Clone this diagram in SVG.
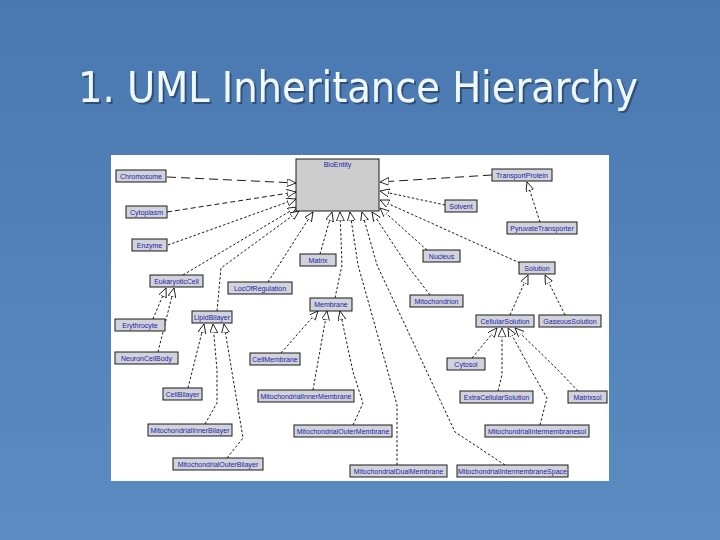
<svg xmlns="http://www.w3.org/2000/svg" width="720" height="540" viewBox="0 0 720 540">
<defs>
<linearGradient id="bg" x1="0" y1="0" x2="0" y2="1">
<stop offset="0" stop-color="#4a78b0"/>
<stop offset="1" stop-color="#5a8cc2"/>
</linearGradient>
<filter id="sh" x="-5%" y="-20%" width="110%" height="140%">
<feDropShadow dx="2" dy="2" stdDeviation="0.6" flood-color="#203c60" flood-opacity="0.7"/>
</filter>
<marker id="gen" markerUnits="userSpaceOnUse" markerWidth="10" markerHeight="10" refX="9" refY="4" orient="auto">
<path d="M0,0 L9,4 L0,8 z" fill="#fff" stroke="#000" stroke-width="0.8"/>
</marker>
<style>
.nb{fill:#d2d2da;stroke:#1a1a1a;stroke-width:1}
.nt{font-family:"Liberation Sans",Arial,sans-serif;font-size:7px;fill:#1c1ca8;text-anchor:middle}
.c{fill:none;stroke:#000;stroke-width:0.9;stroke-dasharray:2.5,2;marker-end:url(#gen)}
.cl{stroke-dasharray:9,5}
.cm{stroke-dasharray:5,3}
.title{font-family:"DejaVu Sans Condensed","DejaVu Sans",sans-serif;font-size:42px}
</style>
</defs>
<rect width="720" height="540" fill="url(#bg)"/>
<text class="title" x="78" y="102" textLength="560" lengthAdjust="spacingAndGlyphs" fill="#eef8fd" filter="url(#sh)">1. UML Inheritance Hierarchy</text>
<rect x="111" y="155" width="498" height="326" fill="#ffffff"/>

<g id="connectors">
<path class="c cl" d="M167,177 L296,183"/>
<path class="c cm" d="M167,212 L296,192"/>
<path class="c" d="M168,245 L296,199"/>
<path class="c" d="M183,275 L297,207"/>
<path class="c" d="M217,311 L221,268 L299,211"/>
<path class="c" d="M268,282 L313,212"/>
<path class="c" d="M320,254 L332,212"/>
<path class="c" d="M335,298 L342,265 L340,212"/>
<path class="c" d="M397,465 L397,405 L388,372 L358,265 L350,212"/>
<path class="c" d="M505,465 L455,432 L377,265 L362,212"/>
<path class="c" d="M430,295 L407,265 L372,212"/>
<path class="c" d="M427,250 L380,208"/>
<path class="c" d="M520,263 L380,200"/>
<path class="c" d="M445,205 L380,191"/>
<path class="c cl" d="M492,175 L380,182"/>
<path class="c" d="M540,222 L527,182"/>
<path class="c" d="M281,353 L318,311"/>
<path class="c" d="M313,390 L327,311"/>
<path class="c" d="M353,425 L363,403 L353,372 L340,311"/>
<path class="c" d="M153,319 L166,288"/>
<path class="c" d="M158,352 L174,288"/>
<path class="c" d="M188,388 L204,324"/>
<path class="c" d="M205,424 L217,403 L217,370 L213,324"/>
<path class="c" d="M227,458 L243,438 L224,324"/>
<path class="c" d="M510,315 L528,275"/>
<path class="c" d="M565,315 L545,275"/>
<path class="c" d="M472,358 L497,328"/>
<path class="c" d="M498,391 L502,375 L502,328"/>
<path class="c" d="M540,425 L547,398 L532,372 L508,328"/>
<path class="c" d="M578,391 L558,370 L515,328"/>
</g>

<g id="BioEntity"><rect class="nb" x="296" y="159" width="83" height="52" style="fill:#cdcdcd"/><text class="nt" x="337.5" y="167">BioEntity</text></g>
<g id="Chromosome"><rect class="nb" x="116" y="170" width="50" height="12"/><text class="nt" x="141" y="178.5">Chromosome</text></g>
<g id="Cytoplasm"><rect class="nb" x="126" y="206" width="41" height="12"/><text class="nt" x="146.5" y="214.5">Cytoplasm</text></g>
<g id="Enzyme"><rect class="nb" x="132" y="239" width="35" height="12"/><text class="nt" x="149.5" y="247.5">Enzyme</text></g>
<g id="TransportProtein"><rect class="nb" x="492" y="169" width="60" height="12"/><text class="nt" x="522" y="177.5">TransportProtein</text></g>
<g id="Solvent"><rect class="nb" x="445" y="200" width="32" height="12"/><text class="nt" x="461" y="208.5">Solvent</text></g>
<g id="PyruvateTransporter"><rect class="nb" x="507" y="222" width="70" height="12"/><text class="nt" x="542" y="230.5">PyruvateTransporter</text></g>
<g id="Matrix"><rect class="nb" x="300" y="254" width="36" height="12"/><text class="nt" x="318" y="262.5">Matrix</text></g>
<g id="Nucleus"><rect class="nb" x="423" y="250" width="37" height="12"/><text class="nt" x="441.5" y="258.5">Nucleus</text></g>
<g id="Solution"><rect class="nb" x="519" y="262" width="36" height="12"/><text class="nt" x="537" y="270.5">Solution</text></g>
<g id="EukaryoticCell"><rect class="nb" x="150" y="275" width="53" height="12"/><text class="nt" x="176.5" y="283.5">EukaryoticCell</text></g>
<g id="LocOfRegulation"><rect class="nb" x="228" y="282" width="64" height="12"/><text class="nt" x="260" y="290.5">LocOfRegulation</text></g>
<g id="Membrane"><rect class="nb" x="310" y="298" width="42" height="13"/><text class="nt" x="331" y="307">Membrane</text></g>
<g id="Mitochondrion"><rect class="nb" x="410" y="295" width="53" height="12"/><text class="nt" x="436.5" y="303.5">Mitochondrion</text></g>
<g id="CellularSolution"><rect class="nb" x="476" y="315" width="58" height="12"/><text class="nt" x="505" y="323.5">CellularSolution</text></g>
<g id="GaseousSolution"><rect class="nb" x="539" y="315" width="62" height="12"/><text class="nt" x="570" y="323.5">GaseousSolution</text></g>
<g id="Erythrocyte"><rect class="nb" x="115" y="319" width="50" height="12"/><text class="nt" x="140" y="327.5">Erythrocyte</text></g>
<g id="LipidBilayer"><rect class="nb" x="192" y="311" width="40" height="12"/><text class="nt" x="212" y="319.5">LipidBilayer</text></g>
<g id="NeuronCellBody"><rect class="nb" x="115" y="352" width="63" height="12"/><text class="nt" x="146.5" y="360.5">NeuronCellBody</text></g>
<g id="CellMembrane"><rect class="nb" x="250" y="353" width="50" height="12"/><text class="nt" x="275" y="361.5">CellMembrane</text></g>
<g id="Cytosol"><rect class="nb" x="447" y="358" width="38" height="12"/><text class="nt" x="466" y="366.5">Cytosol</text></g>
<g id="CellBilayer"><rect class="nb" x="163" y="388" width="39" height="12"/><text class="nt" x="182.5" y="396.5">CellBilayer</text></g>
<g id="MitochondrialInnerMembrane"><rect class="nb" x="258" y="390" width="96" height="12"/><text class="nt" x="306" y="398.5">MitochondrialInnerMembrane</text></g>
<g id="ExtraCellularSolution"><rect class="nb" x="460" y="391" width="73" height="12"/><text class="nt" x="496.5" y="399.5">ExtraCellularSolution</text></g>
<g id="Matrixsol"><rect class="nb" x="568" y="391" width="39" height="12"/><text class="nt" x="587.5" y="399.5">Matrixsol</text></g>
<g id="MitochondrialInnerBilayer"><rect class="nb" x="148" y="424" width="84" height="12"/><text class="nt" x="190" y="432.5">MitochondrialInnerBilayer</text></g>
<g id="MitochondrialOuterMembrane"><rect class="nb" x="294" y="425" width="98" height="12"/><text class="nt" x="343" y="433.5">MitochondrialOuterMembrane</text></g>
<g id="MitochondrialIntermembranesol"><rect class="nb" x="485" y="425" width="104" height="12"/><text class="nt" x="537" y="433.5">MitochondrialIntermembranesol</text></g>
<g id="MitochondrialOuterBilayer"><rect class="nb" x="173" y="458" width="90" height="12"/><text class="nt" x="218" y="466.5">MitochondrialOuterBilayer</text></g>
<g id="MitochondrialDualMembrane"><rect class="nb" x="350" y="465" width="97" height="12"/><text class="nt" x="398.5" y="473.5">MitochondrialDualMembrane</text></g>
<g id="MitochondrialIntermembraneSpace"><rect class="nb" x="457" y="465" width="111" height="12"/><text class="nt" x="512.5" y="473.5">MitochondrialIntermembraneSpace</text></g>
</svg>
